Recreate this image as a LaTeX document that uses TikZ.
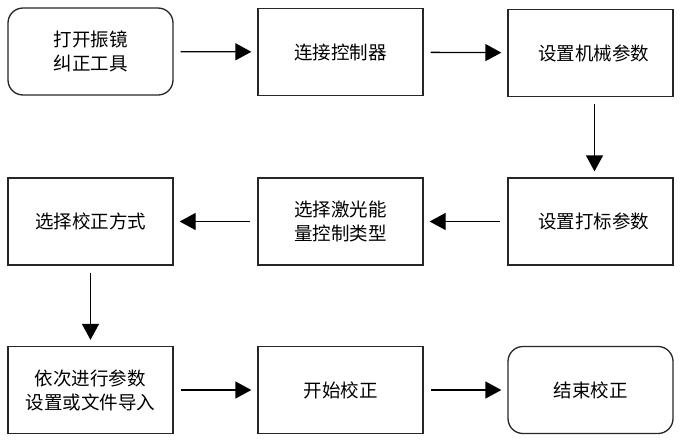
\documentclass[tikz,border=0pt]{standalone}
\usepackage{fontspec}
\setmainfont{Noto Sans CJK SC}
\usetikzlibrary{arrows.meta}
\begin{document}
\begin{tikzpicture}[x=1pt,y=-1pt,
  box/.style={draw=black!85,line width=1.3pt,minimum width=165pt,minimum height=87pt,inner sep=0pt,align=center,font=\fontsize{18.5}{24}\selectfont},
  rbox/.style={box,rounded corners=15pt},
  arr/.style={line width=1.3pt,-{Triangle[length=16pt,width=17pt]},shorten <=7pt,shorten >=6pt}]
\useasboundingbox (0,0) rectangle (683,445);
\node[rbox] (a) at (90.5,51.5) {打开振镜\\纠正工具};
\node[box] (b) at (340.5,52) {连接控制器};
\node[box] (c) at (590.5,53) {\hspace{6pt}设置机械参数};
\node[box] (d) at (590.5,221.5) {\hspace{6pt}设置打标参数};
\node[box] (e) at (340.5,221.5) {选择激光能\\量控制类型};
\node[box] (f) at (90.5,221.5) {选择校正方式};
\node[box] (g) at (90.5,390) {依次进行参数\\设置或文件导入};
\node[box] (h) at (340.5,390) {开始校正};
\node[rbox] (i) at (590.5,390) {结束校正};
\draw[arr] (a) -- (b);
\draw[arr] (b) -- (c);
\draw[arr] ([xshift=4pt]c.south) -- ([xshift=4pt]d.north);
\draw[arr] (d) -- (e);
\draw[arr] (e) -- (f);
\draw[arr] (f) -- (g);
\draw[arr] (g) -- (h);
\draw[arr] (h) -- (i);
\end{tikzpicture}
\end{document}
